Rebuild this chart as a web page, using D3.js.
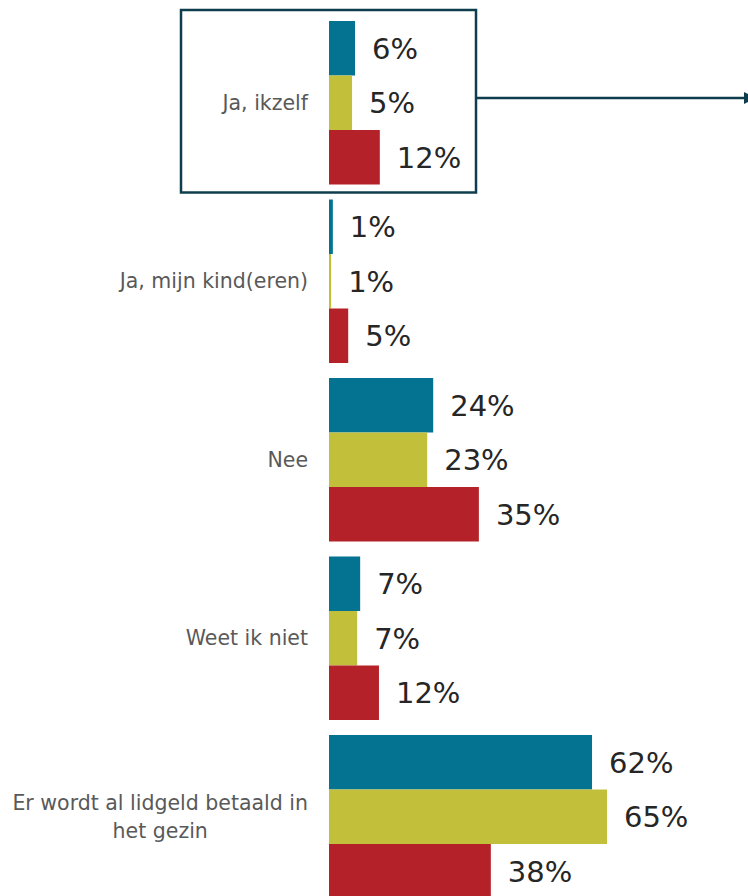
<!DOCTYPE html>
<html>
<head>
<meta charset="utf-8">
<script src="https://cdn.jsdelivr.net/npm/d3@7"></script>
<style>
  html, body { margin: 0; padding: 0; background: #fff; }
  #chart { width: 748px; height: 896px; overflow: hidden; }
  svg { display: block; }
</style>
</head>
<body>
<div id="chart"></div>
<script>
// Grouped horizontal bars, three series per answer
const categories = ["Ja, ikzelf", "Ja, mijn kind(eren)", "Nee", "Weet ik niet", "Er wordt al lidgeld betaald in het gezin"];
const series = ["s1", "s2", "s3"];
const s1Values = [6.1, 0.9, 24.4, 7.3, 61.6];
const s2Values = [5.4, 0.5, 23.0, 6.6, 65.1];
const s3Values = [11.9, 4.5, 35.1, 11.7, 37.9];
const colors = ["#047291", "#c2bf3b", "#b52128"];

(() => {
    const W = 748, H = 896;
    const sel = d3.select("#chart");
    const svg = sel.append("svg").attr("width", W).attr("height", H);

    const rows = categories.map((c, i) => ({
        cat: c,
        vals: [s1Values[i], s2Values[i], s3Values[i]]
    }));

    const x = d3.scaleLinear().domain([0, 100]).range([329, 329 + 427]);
    const step = 178.5, gap = 15;
    const y = d3.scaleBand().domain(categories)
        .range([21, 21 + step * categories.length - gap])
        .paddingInner(gap / step).paddingOuter(0);
    const ys = d3.scaleBand().domain(series).range([0, y.bandwidth()]);

    // highlight box + arrow around first group
    const bx0 = 181, bx1 = 476;
    const by0 = y(categories[0]) - 11, by1 = y(categories[0]) + y.bandwidth() + 8;
    svg.append("rect")
        .attr("x", bx0).attr("y", by0)
        .attr("width", bx1 - bx0).attr("height", by1 - by0)
        .attr("fill", "none").attr("stroke", "#0e3e4e").attr("stroke-width", 2.5);
    const ay = by0 + 88;
    svg.append("line")
        .attr("x1", bx1).attr("x2", W - 2).attr("y1", ay).attr("y2", ay)
        .attr("stroke", "#0e3e4e").attr("stroke-width", 2.5);
    svg.append("path")
        .attr("d", `M${W - 4},${ay - 6}L${W + 8},${ay}L${W - 4},${ay + 6}Z`)
        .attr("fill", "#0e3e4e");

    const g = svg.selectAll("g.grp")
        .data(rows)
        .join("g").attr("class", "grp")
        .attr("transform", d => `translate(0,${y(d.cat)})`);

    g.selectAll("rect")
        .data(d => d.vals.map((v, j) => ({ v, s: series[j], j })))
        .join("rect")
        .attr("x", x(0))
        .attr("y", d => ys(d.s))
        .attr("width", d => x(d.v) - x(0))
        .attr("height", ys.bandwidth())
        .attr("fill", d => colors[d.j]);

    g.selectAll("text.val")
        .data(d => d.vals.map((v, j) => ({ v, s: series[j] })))
        .join("text").attr("class", "val")
        .attr("x", d => x(d.v) + 17)
        .attr("y", d => ys(d.s) + ys.bandwidth() / 2)
        .attr("dy", "0.36em")
        .attr("font-family", "'DejaVu Sans', sans-serif")
        .attr("font-size", 29)
        .attr("fill", "#262626")
        .text(d => Math.round(d.v) + "%");

    // category labels, wrapped and centred on their own block, right edge at 308
    const labelRight = 308, maxW = 310;
    g.each(function (d) {
        const t = d3.select(this).append("text")
            .attr("font-family", "'DejaVu Sans', sans-serif")
            .attr("font-size", 20.5)
            .attr("fill", "#595959");
        const words = d.cat.split(" ");
        const lines = [];
        let cur = [];
        const probe = t.append("tspan");
        words.forEach(wd => {
            cur.push(wd);
            probe.text(cur.join(" "));
            if (probe.node().getComputedTextLength() > maxW && cur.length > 1) {
                cur.pop();
                lines.push(cur.join(" "));
                cur = [wd];
            }
        });
        lines.push(cur.join(" "));
        probe.remove();
        const widths = lines.map(l => {
            const p = t.append("tspan").text(l);
            const w = p.node().getComputedTextLength();
            p.remove();
            return w;
        });
        const bw = d3.max(widths);
        const cx = labelRight - bw / 2;
        const lh = 28;
        const mid = y.bandwidth() / 2;
        lines.forEach((l, k) => {
            t.append("tspan")
                .attr("x", cx)
                .attr("y", mid + (k - (lines.length - 1) / 2) * lh)
                .attr("dy", "0.35em")
                .attr("text-anchor", "middle")
                .text(l);
        });
    });
})();
</script>
</body>
</html>
